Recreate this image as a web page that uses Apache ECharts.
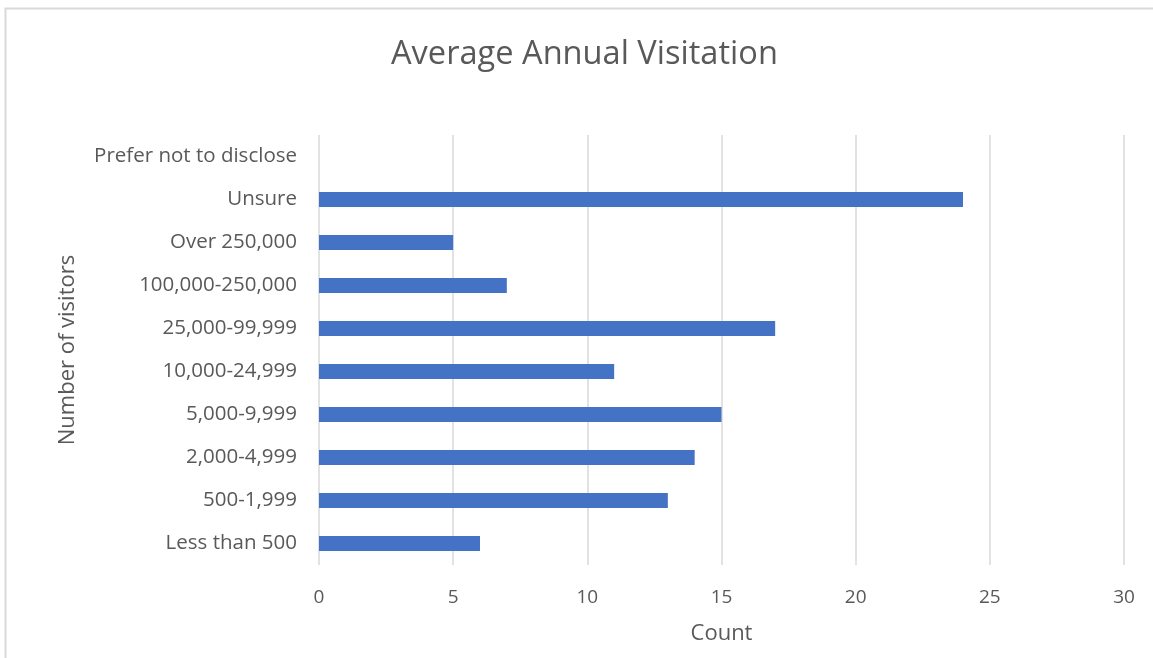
<!DOCTYPE html>
<html>
<head>
<meta charset="utf-8">
<style>
  html, body { margin: 0; padding: 0; background: #ffffff; }
  #chart { width: 1153px; height: 658px; }
</style>
<script src="https://cdn.jsdelivr.net/npm/echarts@6/dist/echarts.min.js"></script>
</head>
<body>
<div id="chart"></div>
<script>
// Visitor ranges, listed bottom to top
const categories = [
  'Less than 500', '500-1,999', '2,000-4,999', '5,000-9,999', '10,000-24,999',
  '25,000-99,999', '100,000-250,000', 'Over 250,000', 'Unsure', 'Prefer not to disclose'
];
const counts = [6, 13, 14, 15, 11, 17, 7, 5, 24, 0];
const xTicks = [0, 5, 10, 15, 20, 25, 30];

const font = 'Open Sans';
const textColor = '#595959';

const chart = echarts.init(document.getElementById('chart'), null, { renderer: 'canvas' });
chart.setOption({
  animation: false,
  backgroundColor: '#ffffff',
  graphic: [{
    type: 'rect',
    shape: { x: 5.5, y: 8.5, width: 1300, height: 800 },
    style: { fill: 'none', stroke: '#d9d9d9', lineWidth: 2 },
    silent: true
  }],
  title: {
    text: 'Average Annual Visitation',
    left: 386,
    top: 33,
    textStyle: { fontFamily: font, fontSize: 32.6, fontWeight: 'normal', color: textColor }
  },
  grid: { left: 319, right: 29, top: 135, bottom: 93, containLabel: false },
  xAxis: {
    type: 'value',
    min: xTicks[0],
    max: xTicks[xTicks.length - 1],
    interval: 5,
    name: 'Count',
    nameLocation: 'middle',
    nameGap: 58,
    nameTextStyle: { fontFamily: font, fontSize: 22, color: textColor },
    axisLine: { show: false },
    axisTick: { show: false },
    axisLabel: { fontFamily: font, fontSize: 19, color: textColor, margin: 23 },
    splitLine: { lineStyle: { color: '#d9d9d9', width: 1.5 } }
  },
  yAxis: {
    type: 'category',
    data: categories,
    name: 'Number of visitors',
    nameLocation: 'middle',
    nameGap: 240,
    nameRotate: 90,
    nameTextStyle: { fontFamily: font, fontSize: 22, color: textColor },
    axisLine: { show: false },
    axisTick: { show: false },
    axisLabel: { fontFamily: font, fontSize: 20.5, color: textColor, margin: 22, padding: [3, 0, 0, 0] },
    splitLine: { show: false }
  },
  series: [{
    type: 'bar',
    data: counts,
    barWidth: 15,
    itemStyle: { color: '#4472c4' }
  }]
});
</script>
</body>
</html>
